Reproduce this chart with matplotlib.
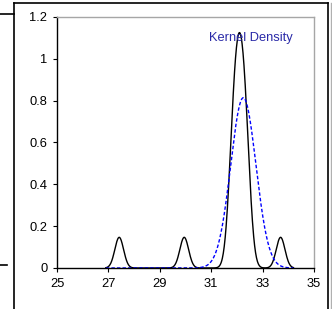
import numpy as np
import matplotlib
matplotlib.use("Agg")
import matplotlib.pyplot as plt
from matplotlib.lines import Line2D

plt.rcParams['font.family'] = ['Liberation Sans', 'DejaVu Sans']

obs_single = [27.42, 29.95, 33.70]
obs_cluster = [31.73, 31.84, 31.90, 31.94, 32.00, 32.045, 32.10,
               32.155, 32.20, 32.26, 32.30, 32.36, 32.47]
bandwidth = 0.17

# blue reference curve
ref_mean = 32.25
ref_sd = 0.49

x_range = [26.9, 34.2]
xticks = [25, 27, 29, 31, 33, 35]
yticks = [0, 0.2, 0.4, 0.6, 0.8, 1.0, 1.2]
ytick_labels = ['0', '0.2', '0.4', '0.6', '0.8', '1', '1.2']
label_text = 'Kernel Density'

obs = np.array(obs_single + obs_cluster)
xs = np.linspace(x_range[0], x_range[1], 600)

# gaussian kernel density
z = (xs[:, None] - obs[None, :]) / bandwidth
kde = np.exp(-0.5 * z ** 2).sum(axis=1) / (len(obs) * bandwidth * np.sqrt(2 * np.pi))
ref = np.exp(-0.5 * ((xs - ref_mean) / ref_sd) ** 2) / (ref_sd * np.sqrt(2 * np.pi))

fig = plt.figure(figsize=(3.32, 3.09), dpi=100)
ax = fig.add_axes([0.1717, 0.1327, 0.7741, 0.8123])

ax.plot(xs, kde, color='black', lw=1.0)
ax.plot(xs, ref, color='#0000ff', lw=1.0, linestyle=(0, (2.5, 1.5)))

ax.set_xlim(25, 35)
ax.set_ylim(0, 1.2)
ax.set_xticks(xticks)
ax.set_yticks(yticks)
ax.set_yticklabels(ytick_labels)
ax.tick_params(labelsize=9.3, length=3, width=0.8, direction='out', pad=4)

for s in ['left', 'bottom']:
    ax.spines[s].set_color('black')
    ax.spines[s].set_linewidth(1.0)
for s in ['top', 'right']:
    ax.spines[s].set_color('#a6a6a6')
    ax.spines[s].set_linewidth(1.0)

ax.text(30.91, 1.10, label_text, color='#2a2aa8', fontsize=9.3, va='center', ha='left')

# surrounding frame of the figure
W, H = 332.0, 309.0
def fl(x0, y0, x1, y1, color='black', lw=1.2):
    fig.add_artist(Line2D([x0 / W, x1 / W], [1 - y0 / H, 1 - y1 / H],
                          color=color, lw=lw, transform=fig.transFigure))

fl(13.5, 3, 13.5, 309)
fl(13.5, 3, 328, 3)
fl(328, 3, 328, 309)
fl(330.5, 3, 330.5, 309, color='#b0b0b0', lw=1.0)
fl(0, 14, 13.5, 14)
fl(0, 265, 7, 265)

fig.savefig('out.png', dpi=100)
